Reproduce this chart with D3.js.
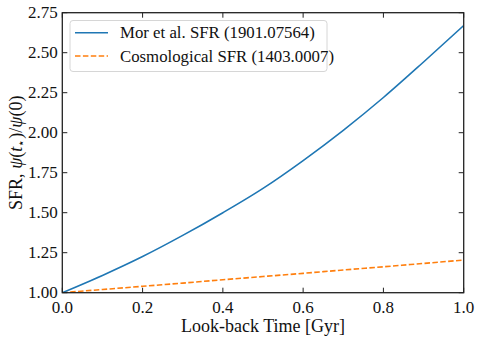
<!DOCTYPE html>
<html><head><meta charset="utf-8">
<script src="https://cdn.jsdelivr.net/npm/d3@7"></script>
<style>
body{margin:0;background:#fff;}
</style></head>
<body><svg id="c" width="482" height="346" font-family="Liberation Serif, DejaVu Serif, serif"></svg>
<script>
const timeGyr = [0.0,0.1,0.2,0.3,0.4,0.5,0.6,0.7,0.8,0.9,1.0];
const morSFR = [1.0,1.108,1.226,1.358,1.50,1.652,1.826,2.015,2.22,2.442,2.67];
const cosmoSFR = [1.0,1.02,1.04,1.06,1.081,1.101,1.121,1.142,1.162,1.183,1.204];
const xTicks = [0,0.2,0.4,0.6,0.8,1.0];
const yTicks = [1.00,1.25,1.50,1.75,2.00,2.25,2.50,2.75];
const seriesNames = ["Mor et al. SFR (1901.07564)","Cosmological SFR (1403.0007)"];

const FF = "Liberation Serif";
const svg = d3.select("#c");
const L=62.3, R=463.7, T=12.7, B=292.7;
const x = d3.scaleLinear().domain([0,1]).range([L,R]);
const y = d3.scaleLinear().domain([1,2.75]).range([B,T]);
const ink="#222";

// lines
const line = (vals)=>d3.line().curve(d3.curveMonotoneX).x((d,i)=>x(timeGyr[i])).y(d=>y(d))(vals);
svg.append("clipPath").attr("id","cp").append("rect").attr("x",L).attr("y",T).attr("width",R-L).attr("height",B-T);
svg.append("path").attr("d",line(cosmoSFR)).attr("fill","none").attr("stroke","#ff7f0e").attr("stroke-width",1.6).attr("stroke-dasharray","5.5,2.4").attr("clip-path","url(#cp)");
svg.append("path").attr("d",line(morSFR)).attr("fill","none").attr("stroke","#1f77b4").attr("stroke-width",1.6).attr("clip-path","url(#cp)");

// ticks (inward, all sides)
const tl=5;
xTicks.forEach(v=>{
  svg.append("line").attr("x1",x(v)).attr("x2",x(v)).attr("y1",B).attr("y2",B-tl).attr("stroke",ink).attr("stroke-width",1);
  svg.append("line").attr("x1",x(v)).attr("x2",x(v)).attr("y1",T).attr("y2",T+tl).attr("stroke",ink).attr("stroke-width",1);
  svg.append("text").attr("font-family",FF).attr("x",x(v)).attr("y",B+20.5).attr("text-anchor","middle").attr("font-size",17).attr("fill","#111").text(v.toFixed(1));
});
yTicks.forEach(v=>{
  svg.append("line").attr("x1",L).attr("x2",L+tl).attr("y1",y(v)).attr("y2",y(v)).attr("stroke",ink).attr("stroke-width",1);
  svg.append("line").attr("x1",R).attr("x2",R-tl).attr("y1",y(v)).attr("y2",y(v)).attr("stroke",ink).attr("stroke-width",1);
  svg.append("text").attr("font-family",FF).attr("x",L-4.5).attr("y",y(v)+5.5).attr("text-anchor","end").attr("font-size",17).attr("fill","#111").text(v.toFixed(2));
});
// frame
svg.append("rect").attr("x",L).attr("y",T).attr("width",R-L).attr("height",B-T).attr("fill","none").attr("stroke",ink).attr("stroke-width",1.3);

// axis labels
svg.append("text").attr("font-family",FF).attr("x",(L+R)/2).attr("y",332).attr("text-anchor","middle").attr("font-size",18).attr("fill","#111").text("Look-back Time [Gyr]");
const yl = svg.append("text").attr("font-family",FF).attr("transform",`translate(22,${(T+B)/2}) rotate(-90)`).attr("text-anchor","middle").attr("font-size",18).attr("fill","#111");
yl.append("tspan").text("SFR, ");
yl.append("tspan").attr("font-style","italic").text("ψ");
yl.append("tspan").text("(");
yl.append("tspan").attr("font-style","italic").text("t");
yl.append("tspan").attr("font-size",12).attr("dy",3).text("⋆");
yl.append("tspan").attr("dy",-3).text(")/");
yl.append("tspan").attr("font-style","italic").text("ψ");
yl.append("tspan").text("(0)");

// legend
const lg = svg.append("g");
lg.append("rect").attr("x",70).attr("y",20.5).attr("width",257).attr("height",51).attr("rx",3).attr("fill","rgba(255,255,255,0.8)").attr("stroke","#d6d6d6").attr("stroke-width",1);
const colors=["#1f77b4","#ff7f0e"], dashes=[null,"5.5,2.4"];
seriesNames.forEach((n,i)=>{
  const yy = 32.7 + i*23.3;
  lg.append("line").attr("x1",75).attr("x2",108).attr("y1",yy).attr("y2",yy).attr("stroke",colors[i]).attr("stroke-width",1.6).attr("stroke-dasharray",dashes[i]);
  lg.append("text").attr("font-family",FF).attr("x",120).attr("y",yy+5.5).attr("font-size",16.8).attr("fill","#111").text(n);
});
</script></body></html>
